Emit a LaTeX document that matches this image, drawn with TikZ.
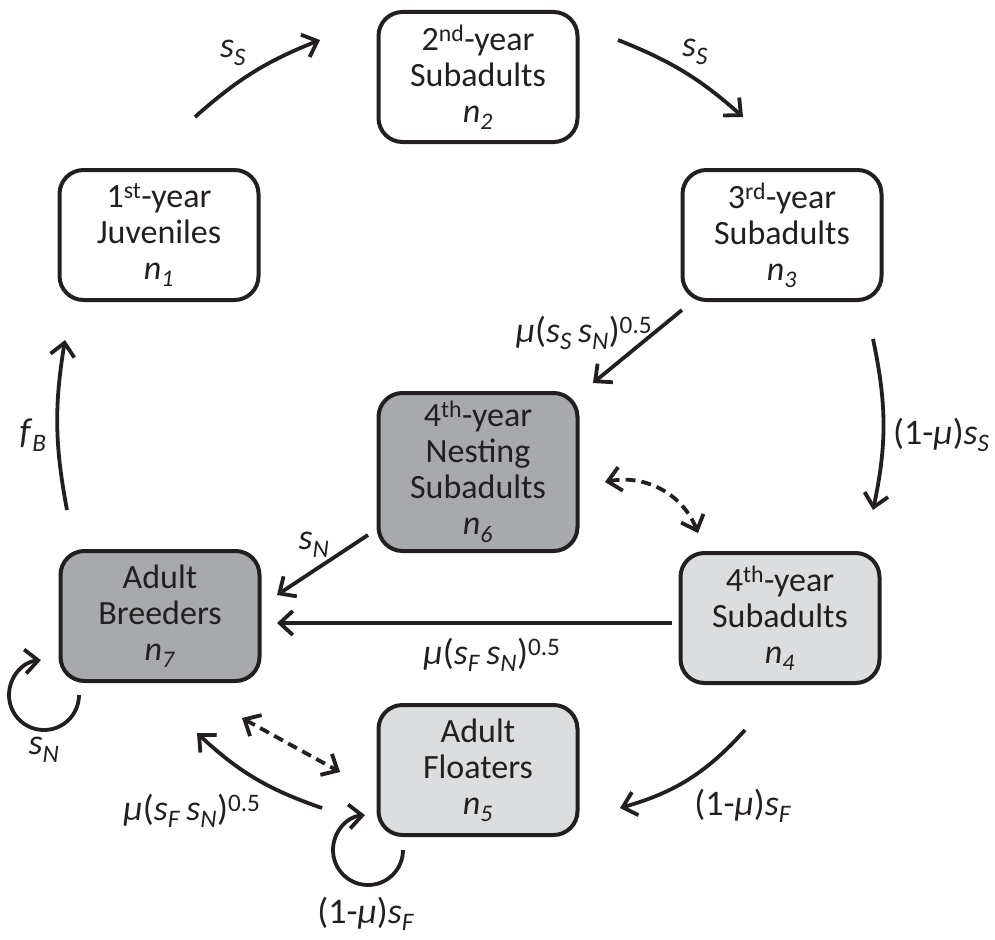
\documentclass[tikz,border=0pt]{standalone}
\usepackage{fontspec}
\setmainfont{Carlito}
\usetikzlibrary{arrows.meta}
\definecolor{edgec}{HTML}{231F20}
\definecolor{darkfill}{HTML}{A7A9AC}
\definecolor{lightfill}{HTML}{DCDDDE}
\newcommand{\svar}[1]{\textit{s}\textsubscript{\textit{#1}}}
\newcommand{\nvar}[1]{\textit{n}\textsubscript{\textit{#1}}}
\newcommand{\muv}{\textit{μ}}
\begin{document}
\begin{tikzpicture}[x=1pt,y=-1pt,
  box/.style={draw=edgec, line width=4pt, rounded corners=24pt, minimum width=199pt, minimum height=130pt, align=center, inner sep=2pt, font=\fontsize{34}{36}\selectfont, text=edgec},
  whitebox/.style={box, fill=white},
  darkbox/.style={box, fill=darkfill},
  lightbox/.style={box, fill=lightfill},
  conn/.style={draw=edgec, line width=3.8pt, -{Straight Barb[length=13pt,width=24pt]}},
  dconn/.style={draw=edgec, line width=3.8pt, {Straight Barb[length=13pt,width=24pt]}-{Straight Barb[length=13pt,width=24pt]}, dash pattern=on 10pt off 6pt},
  lab/.style={font=\fontsize{36}{38}\selectfont, text=edgec, inner sep=0pt},
]
\useasboundingbox (0,0) rectangle (995,939);

% nodes
\node[whitebox] (n1) at (159,235) {1\textsuperscript{st}-year\\Juveniles\\\nvar{1}};
\node[whitebox] (n2) at (478,77) {2\textsuperscript{nd}-year\\Subadults\\\nvar{2}};
\node[whitebox] (n3) at (782,235) {3\textsuperscript{rd}-year\\Subadults\\\nvar{3}};
\node[darkbox, minimum height=158pt] (n6) at (478,472) {4\textsuperscript{th}-year\\Nesting\\Subadults\\\nvar{6}};
\node[darkbox] (n7) at (160,616) {Adult\\Breeders\\\nvar{7}};
\node[lightbox] (n4) at (780,618) {4\textsuperscript{th}-year\\Subadults\\\nvar{4}};
\node[lightbox] (n5) at (478,770) {Adult\\Floaters\\\nvar{5}};

% connector end points
\coordinate (a1s) at (195,117); \coordinate (a1e) at (320,40);
\coordinate (a2s) at (618,40);  \coordinate (a2e) at (743,117);
\coordinate (b3s) at (682,310); \coordinate (b3e) at (593,383);
\coordinate (c3s) at (873,339); \coordinate (c3e) at (873,510);
\coordinate (d6) at (605,482);  \coordinate (d4) at (698,533);
\coordinate (e6s) at (368,535); \coordinate (e6e) at (277,595);
\coordinate (f4s) at (672,623); \coordinate (f4e) at (277,623);
\coordinate (g4s) at (745,730); \coordinate (g4e) at (620,808);
\coordinate (h5s) at (322,808); \coordinate (h5e) at (197,733);
\coordinate (k7) at (242,718);  \coordinate (k5) at (340,772);
\coordinate (m7s) at (67,510);  \coordinate (m7e) at (65,340);
\coordinate (l7s) at (79,695);
\coordinate (l5s) at (403,850);

% connectors
\draw[conn] (a1s) to[bend left=10] (a1e);
\draw[conn] (a2s) to[bend left=10] (a2e);
\draw[conn] (b3s) -- (b3e);
\draw[conn] (c3s) to[bend left=12] (c3e);
\draw[dconn] (d6) to[bend left=40] (d4);
\draw[conn] (e6s) -- (e6e);
\draw[conn] (f4s) -- (f4e);
\draw[conn] (g4s) to[bend left=16] (g4e);
\draw[conn] (h5s) to[bend left=12] (h5e);
\draw[dconn] (k7) -- (k5);
\draw[conn] (m7s) to[bend left=10] (m7e);
\draw[conn] (l7s) arc[start angle=0, end angle=-265, radius=35pt];
\draw[conn] (l5s) arc[start angle=0, end angle=-265, radius=35pt];

% labels
\node[lab] (t1) at (233,53) {\svar{S}};
\node[lab] (t2) at (695,52) {\svar{S}};
\node[lab] (t3) at (584,333) {\muv(\svar{S}\,\svar{N})\textsuperscript{0.5}};
\node[lab, anchor=west] (t4) at (893,435) {(1-\muv)\svar{S}};
\node[lab] (t5) at (33,435) {\textit{f}\textsubscript{\textit{B}}};
\node[lab] (t6) at (314,545) {\svar{N}};
\node[lab] (t7) at (492,655) {\muv(\svar{F}\,\svar{N})\textsuperscript{0.5}};
\node[lab] (t8) at (44,750) {\svar{N}};
\node[lab] (t9) at (192,811) {\muv(\svar{F}\,\svar{N})\textsuperscript{0.5}};
\node[lab] (t10) at (743,806) {(1-\muv)\svar{F}};
\node[lab] (t11) at (366,914) {(1-\muv)\svar{F}};
\end{tikzpicture}
\end{document}
